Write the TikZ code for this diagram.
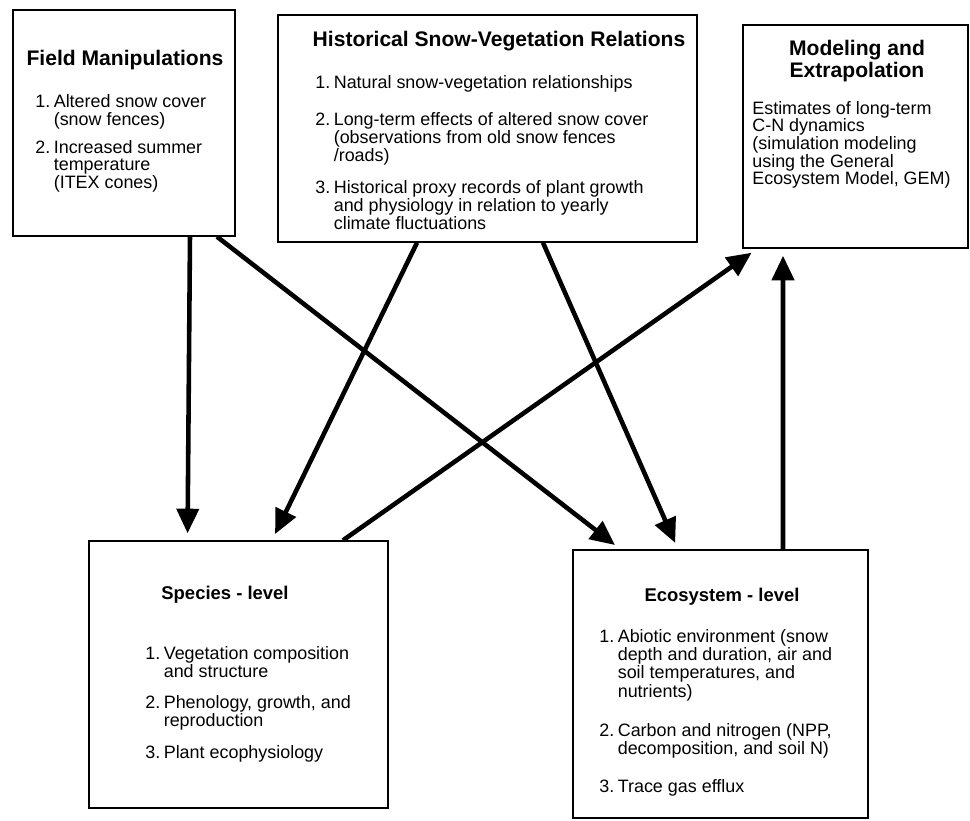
\documentclass[tikz,border=0pt]{standalone}
\usepackage{fontspec}
\setmainfont{Liberation Sans}
\usepackage{tikz}
\usetikzlibrary{positioning, arrows.meta}

\begin{document}
\begin{tikzpicture}[
        x=0.02cm, y=-0.02cm,
        box/.style={rectangle, draw, line width=0.8pt, inner sep=0pt},
        boxtitle/.style={font=\fontsize{12}{12.5}\selectfont\bfseries, align=center, inner sep=0pt},
        leveltitle/.style={font=\fontsize{10.5}{12}\selectfont\bfseries, inner sep=0pt},
        boxtext/.style={font=\fontsize{10.2}{10}\selectfont, align=left, inner sep=0pt, anchor=north west},
        arrow/.style={-{Triangle[length=14pt, width=12.5pt]}, line width=2.6pt, shorten >=4pt}
    ]
    \useasboundingbox (0,0) rectangle (970,821);

    % top row
    \node[box, minimum width=4.44cm, minimum height=4.52cm] (field) at (124,123) {};
    \node[box, minimum width=8.38cm, minimum height=4.54cm] (hist) at (487.5,128.5) {};
    \node[box, minimum width=4.5cm, minimum height=4.46cm] (model) at (855.5,136.5) {};

    \node[boxtitle] (fieldtitle) at (125,60) {Field Manipulations};
    \node[boxtext] (fieldtext) at (35,94) {\begin{tabular}{@{}l@{\hspace{2pt}}l@{}}
        1. & Altered snow cover\\
           & (snow fences)\\[5.3pt]
        2. & Increased summer\\
           & temperature\\
           & (ITEX cones)
    \end{tabular}};

    \node[boxtitle] (histtitle) at (499,41) {Historical Snow-Vegetation Relations};
    \node[boxtext, font=\fontsize{10.2}{9.2}\selectfont] (histtext) at (315,75) {\begin{tabular}{@{}l@{\hspace{2pt}}l@{}}
        1. & Natural snow-vegetation relationships\\[11pt]
        2. & Long-term effects of altered snow cover\\
           & (observations from old snow fences\\
           & /roads)\\[8.5pt]
        3. & Historical proxy records of plant growth\\
           & and physiology in relation to yearly\\
           & climate fluctuations
    \end{tabular}};

    \node[boxtitle] (modeltitle) at (857,61) {Modeling and\\Extrapolation};
    \node[boxtext] (modeltext) at (752,101) {Estimates of long-term\\C-N dynamics\\(simulation modeling\\using the General\\Ecosystem Model, GEM)};

    % bottom row
    \node[box, minimum width=5.98cm, minimum height=5.34cm] (species) at (238.5,674.5) {};
    \node[box, minimum width=5.9cm, minimum height=5.36cm] (eco) at (720.5,684) {};

    \node[leveltitle] (speciestitle) at (225,595) {Species - level};
    \node[boxtext] (speciestext) at (145,646) {\begin{tabular}{@{}l@{\hspace{2pt}}l@{}}
        1. & Vegetation composition\\
           & and structure\\[7.3pt]
        2. & Phenology, growth, and\\
           & reproduction\\[7.3pt]
        3. & Plant ecophysiology
    \end{tabular}};

    \node[leveltitle] (ecotitle) at (722,597) {Ecosystem - level};
    \node[boxtext] (ecotext) at (599,629) {\begin{tabular}{@{}l@{\hspace{2pt}}l@{}}
        1. & Abiotic environment (snow\\
           & depth and duration, air and\\
           & soil temperatures, and\\
           & nutrients)\\[12pt]
        2. & Carbon and nitrogen (NPP,\\
           & decomposition, and soil N)\\[11pt]
        3. & Trace gas efflux
    \end{tabular}};

    % arrows
    \draw[arrow] ([xshift=1.32cm]field.south) -- ([xshift=-1.02cm]species.north);
    \draw[arrow] ([xshift=1.86cm]field.south) -- ([xshift=-2.0cm]eco.north);
    \draw[arrow] ([xshift=-1.41cm]hist.south) -- ([xshift=0.67cm]species.north);
    \draw[arrow] ([xshift=1.11cm]hist.south) -- ([xshift=-0.85cm]eco.north);
    \draw[arrow] ([xshift=2.09cm]species.north) -- ([xshift=0.3cm]model.south west);
    \draw[arrow] ([xshift=1.25cm]eco.north) -- ([xshift=-1.45cm]model.south);
\end{tikzpicture}
\end{document}
